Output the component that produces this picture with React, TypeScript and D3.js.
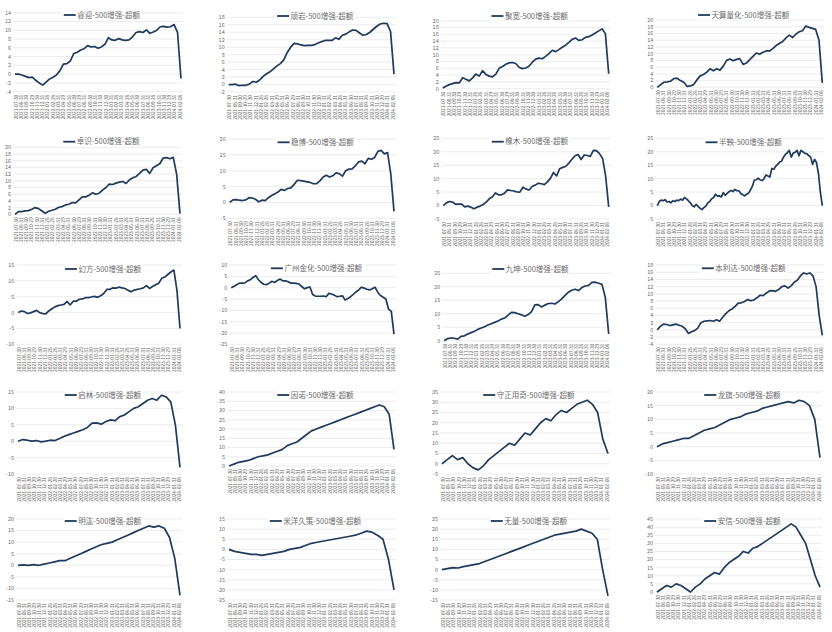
import React from "react";
import * as d3 from "d3";

const names = [
  "睿迎", "顽岩", "聚宽", "天算量化",
  "卓识", "稳博", "橡木", "半鞅",
  "幻方", "广州金化", "九坤", "本利达",
  "启林", "因诺", "守正用奇", "龙旗",
  "明汯", "米洋久策", "无量", "安信",
];
const titleSuffix = "-500增强-超额";

const dateTicks = [
  "2021-07-30", "2021-08-31", "2021-09-30", "2021-10-29", "2021-11-30", "2021-12-31",
  "2022-01-28", "2022-02-28", "2022-03-31", "2022-04-29", "2022-05-31", "2022-06-30",
  "2022-07-29", "2022-08-31", "2022-09-30", "2022-10-31", "2022-11-30", "2022-12-30",
  "2023-01-31", "2023-02-28", "2023-03-31", "2023-04-28", "2023-05-31", "2023-06-30",
  "2023-07-31", "2023-08-31", "2023-09-28", "2023-10-31", "2023-11-30", "2023-12-29",
  "2024-01-31", "2024-02-08",
];

const t01 = [-4, -2, 0, 2, 4, 6, 8, 10, 12, 14];
const t02 = [-2, 0, 2, 4, 6, 8, 10, 12, 14, 16, 18];
const t03 = [0, 2, 4, 6, 8, 10, 12, 14, 16, 18, 20];
const t04 = [0, 2, 4, 6, 8, 10, 12, 14, 16, 18, 20];
const t05 = [0, 2, 4, 6, 8, 10, 12, 14, 16, 18, 20];
const t06 = [-5, 0, 5, 10, 15, 20];
const t07 = [-5, 0, 5, 10, 15, 20, 25];
const t08 = [-5, 0, 5, 10, 15, 20, 25];
const t09 = [-10, -5, 0, 5, 10, 15];
const t10 = [-25, -20, -15, -10, -5, 0, 5, 10];
const t11 = [0, 5, 10, 15, 20, 25];
const t12 = [-4, -2, 0, 2, 4, 6, 8, 10, 12, 14, 16, 18];
const t13 = [-10, -5, 0, 5, 10, 15];
const t14 = [0, 5, 10, 15, 20, 25, 30, 35, 40];
const t15 = [-5, 0, 5, 10, 15, 20, 25, 30, 35];
const t16 = [-10, -5, 0, 5, 10, 15, 20];
const t17 = [-15, -10, -5, 0, 5, 10, 15, 20];
const t18 = [-25, -20, -15, -10, -5, 0, 5, 10, 15];
const t19 = [-15, -10, -5, 0, 5, 10, 15, 20, 25];
const t20 = [0, 5, 10, 15, 20, 25, 30, 35, 40, 45];

const s01 = [0, 0, -0.2, -0.5, -0.8, -0.7, -1.4, -2.0, -2.5, -1.8, -1.1, -0.7, -0.2, 0.8, 2.3, 2.4, 3.0, 4.7, 5.0, 5.5, 5.8, 6.5, 6.2, 6.3, 5.9, 6.2, 6.8, 8.3, 7.8, 7.7, 8.1, 7.8, 7.7, 7.8, 8.5, 9.5, 9.7, 9.5, 10.1, 9.3, 9.6, 10.0, 10.8, 10.9, 10.7, 10.8, 11.3, 9.5, -1.0];
const s02 = [0, 0, 0.1, -0.3, -0.2, -0.2, 0.1, 0.8, 0.6, 1.2, 2.2, 2.9, 3.4, 4.2, 5.0, 5.6, 6.6, 8.6, 10.0, 11.0, 10.9, 10.6, 10.4, 10.5, 10.5, 10.7, 11.1, 11.5, 11.8, 11.8, 11.8, 12.5, 12.1, 13.2, 13.5, 14.1, 14.6, 14.5, 13.8, 13.2, 13.4, 14.0, 14.8, 15.6, 16.2, 16.4, 16.3, 14.2, 2.8];
const s03 = [0.2, 0.7, 1.2, 1.5, 1.8, 1.7, 3.2, 2.8, 2.3, 3.2, 4.3, 3.7, 5.3, 4.2, 3.7, 3.5, 4.3, 6.0, 6.5, 7.2, 7.6, 7.7, 7.4, 6.3, 5.9, 6.1, 6.6, 7.8, 8.7, 9.0, 8.8, 9.5, 10.3, 11.3, 10.9, 11.5, 12.2, 12.8, 13.6, 14.5, 14.9, 14.2, 14.4, 15.1, 15.3, 15.8, 16.4, 17.0, 17.6, 16.2, 4.4];
const s04 = [0, 0.8, 1.5, 1.6, 1.8, 2.6, 2.7, 2.0, 1.5, 0.3, 0.4, 0.8, 2.2, 3.4, 3.8, 4.5, 5.5, 4.9, 5.5, 5.1, 6.3, 8.0, 8.4, 7.9, 8.3, 8.5, 6.8, 7.2, 8.2, 9.2, 10.2, 9.8, 10.4, 10.8, 10.8, 11.5, 12.4, 13.0, 13.6, 14.7, 15.5, 14.8, 15.8, 16.5, 16.8, 18.2, 17.8, 17.5, 17.2, 14.0, 1.3];
const s05 = [0, 0.8, 0.8, 1.0, 1.1, 1.5, 2.0, 1.7, 1.0, 0.3, 0.9, 1.2, 1.5, 2.1, 2.3, 2.8, 3.0, 3.5, 3.4, 4.3, 5.2, 5.2, 5.7, 6.4, 6.0, 6.3, 7.2, 8.0, 9.0, 8.9, 9.3, 9.6, 9.8, 9.2, 10.3, 10.9, 11.3, 12.2, 13.2, 13.4, 12.2, 13.9, 14.5, 15.1, 16.8, 16.9, 16.6, 17.0, 12.0, 0.2];
const s06 = [0, 0.8, 0.9, 0.7, 0.6, 0.8, 1.5, 1.4, 1.0, 0.2, 0.7, 0.6, 1.5, 2.2, 2.7, 3.3, 4.1, 3.8, 4.4, 4.6, 5.7, 7.0, 6.9, 6.7, 6.5, 6.3, 5.9, 5.9, 6.8, 8.0, 8.6, 8.0, 8.4, 9.3, 9.1, 8.3, 10.0, 10.5, 10.6, 11.5, 12.8, 13.0, 12.2, 13.9, 13.6, 14.2, 16.1, 16.4, 15.3, 15.7, 9.0, -2.8];
const s07 = [0, 1.0, 1.5, 1.3, 0.5, 0.5, 0.5, -0.5, -0.2, -0.6, -1.2, -0.6, -0.2, 0.4, 1.3, 2.5, 3.2, 4.7, 4.0, 4.0, 4.6, 5.8, 5.6, 5.4, 5.1, 5.0, 6.8, 6.1, 5.8, 7.1, 7.6, 8.3, 8.1, 7.8, 8.8, 10.2, 12.3, 11.0, 13.7, 14.2, 14.6, 15.8, 17.2, 18.5, 19.0, 17.1, 18.8, 18.6, 18.3, 20.5, 20.4, 19.3, 17.5, 11.0, -0.5];
const s08 = [0, 1.5, 2.0, 1.8, 2.2, 1.3, 1.5, 1.0, 1.8, 1.5, 2.0, 1.8, 2.4, 2.0, 3.0, 2.5, 1.8, 1.0, 0, -0.5, 0.4, -0.3, -1.0, -1.5, -0.8, -0.2, 1.0, 1.5, 2.5, 3.0, 4.2, 3.5, 3.6, 3.2, 4.8, 3.8, 4.5, 5.2, 5.6, 5.2, 6.0, 5.5, 5.5, 4.5, 4.0, 3.6, 4.2, 4.6, 5.8, 7.2, 9.5, 9.6, 10.2, 9.5, 9.3, 10.0, 11.4, 11.0, 10.6, 13.8, 13.5, 14.6, 15.3, 16.2, 16.5, 18.0, 19.0, 19.7, 20.5, 18.0, 19.5, 19.8, 20.5, 18.5, 20.5, 20.0, 19.4, 19.3, 18.6, 18.0, 15.3, 17.2, 16.0, 12.0, 5.0, 0];
const s09 = [0, 0.5, 0.3, -0.3, -0.1, 0.3, 0.7, 0, -0.3, -0.4, 0.5, 1.2, 1.8, 2.2, 2.4, 2.6, 3.5, 2.4, 3.6, 3.6, 4.2, 4.3, 4.7, 4.7, 4.9, 5.1, 4.8, 5.3, 6.0, 7.3, 7.3, 7.8, 7.7, 8.0, 7.8, 7.6, 7.0, 6.6, 7.1, 7.3, 7.5, 7.8, 8.5, 7.6, 8.2, 8.8, 9.2, 10.8, 11.2, 12.0, 12.8, 13.4, 7.0, -5.0];
const s10 = [0, 0.6, 1.3, 2.0, 2.0, 2.1, 3.0, 3.5, 4.5, 5.3, 3.5, 2.3, 1.5, 1.3, 2.0, 2.8, 2.3, 3.2, 3.8, 3.0, 3.0, 2.6, 2.0, 2.0, 1.9, 1.6, 0.5, -0.5, 0, 0.3, -3.0, -3.7, -3.8, -3.8, -3.7, -4.0, -2.5, -2.8, -3.3, -4.0, -3.8, -3.6, -5.5, -4.8, -4.0, -3.0, -1.8, -1.0, 0.2, -0.2, -0.7, -1.0, -0.5, 0.2, -2.0, -3.5, -4.2, -5.0, -9.5, -10.5, -20.5];
const s11 = [0, 0.8, 1.0, 0.9, 0.6, 1.6, 1.8, 2.5, 3.0, 3.5, 4.2, 4.7, 5.2, 5.8, 6.3, 6.8, 7.3, 8.0, 8.4, 9.5, 10.5, 10.4, 10.0, 9.6, 9.1, 9.7, 10.8, 13.3, 13.4, 12.5, 13.2, 13.8, 13.9, 13.6, 14.5, 15.5, 16.8, 18.0, 18.7, 19.1, 18.6, 19.7, 20.3, 20.5, 21.6, 21.7, 21.3, 20.9, 16.0, 2.5];
const s12 = [0, 1.0, 1.6, 1.5, 1.2, 1.4, 1.6, 1.3, 1.0, 0.3, -1.0, -0.5, -0.2, 0.5, 2.0, 2.4, 2.5, 2.6, 2.4, 2.8, 2.4, 3.5, 4.5, 5.3, 5.8, 6.5, 7.4, 7.5, 7.9, 8.4, 8.1, 8.3, 8.9, 9.6, 9.5, 10.2, 10.8, 10.9, 10.7, 11.2, 12.0, 12.2, 11.6, 12.2, 13.2, 13.8, 15.0, 15.8, 15.5, 15.8, 15.0, 12.0, 4.0, -1.5];
const s13 = [0, 0.5, 0.3, 0, 0.2, -0.2, 0, 0.3, 0.2, 0.8, 1.5, 2.0, 2.5, 3.0, 3.5, 4.2, 5.5, 5.6, 5.2, 6.0, 6.5, 6.3, 7.5, 8.0, 9.0, 10.0, 10.5, 11.5, 12.5, 13.0, 12.5, 14.0, 13.5, 12.0, 5.0, -8.0];
const s14 = [0, 1, 2, 2.5, 3, 4, 5, 5.5, 6, 7, 8, 9, 11, 12, 13, 15, 17, 19, 20, 21, 22, 23, 24, 25, 26, 27, 28, 29, 30, 31, 32, 33, 32, 28, 9];
const s15 = [0, 2, 4, 2, 3, 0, -2, -3, -1, 2, 4, 6, 8, 10, 9, 12, 15, 14, 17, 20, 22, 21, 24, 26, 25, 27, 29, 30, 31, 29, 25, 12, 5];
const s16 = [0, 1, 1.5, 2, 2.5, 3, 3, 4, 5, 6, 6.5, 7, 8, 9, 10, 10.5, 11, 12, 12.5, 13, 14, 14.5, 15, 15.5, 16, 16.5, 16, 17, 16.5, 15, 10, -4];
const s17 = [0, 0.2, 0, 0.3, 0, 0.5, 1, 1.5, 2, 2, 3, 4, 5, 6, 7, 8, 9, 9.5, 10, 11, 12, 13, 14, 15, 16, 17, 16.5, 17, 16, 12, 3, -13];
const s18 = [0, -1, -1.5, -2, -2.5, -2.5, -3, -2.5, -2, -1.5, -1, 0, 0.5, 1, 2, 3, 3.5, 4, 4.5, 5, 5.5, 6, 6.5, 7, 8, 9, 8.5, 7, 5, -5, -20];
const s19 = [0, 0.5, 1, 0.8, 1.5, 2, 2.5, 3, 4, 5, 6, 7, 8, 9, 10, 11, 12, 13, 14, 15, 16, 17, 17.5, 18, 18.5, 19, 20, 19, 18, 15, 0, -13];
const s20 = [0, 2, 4, 3, 5, 4, 2, 0, 3, 5, 8, 10, 12, 11, 15, 18, 20, 22, 25, 24, 27, 28, 30, 32, 34, 36, 38, 40, 42, 40, 35, 30, 20, 10, 3];

const seriesList = [s01, s02, s03, s04, s05, s06, s07, s08, s09, s10, s11, s12, s13, s14, s15, s16, s17, s18, s19, s20];
const tickList = [t01, t02, t03, t04, t05, t06, t07, t08, t09, t10, t11, t12, t13, t14, t15, t16, t17, t18, t19, t20];

// layout: plot box per panel (left, right, top tick y, bottom tick y, title y)
const boxes = [
  { l: 15, r: 181, t: 12.7, b: 91.7, ty: 15 },
  { l: 228.7, r: 394, t: 17.3, b: 92, ty: 16 },
  { l: 442.7, r: 608.7, t: 20.7, b: 88.7, ty: 16 },
  { l: 657.3, r: 822.3, t: 20, b: 87.3, ty: 15 },
  { l: 15, r: 180, t: 147.3, b: 214.3, ty: 141.7 },
  { l: 229.7, r: 394, t: 139, b: 218.3, ty: 142.3 },
  { l: 443.3, r: 608.7, t: 138.3, b: 219, ty: 141.7 },
  { l: 657.3, r: 822.3, t: 138.3, b: 219, ty: 142.3 },
  { l: 18.3, r: 180, t: 265, b: 344.3, ty: 269 },
  { l: 231.3, r: 394, t: 265, b: 344.3, ty: 268.3 },
  { l: 444.3, r: 608.7, t: 273.3, b: 340.7, ty: 269 },
  { l: 657.3, r: 822.3, t: 265, b: 344.3, ty: 268.3 },
  { l: 18, r: 180, t: 392, b: 474, ty: 395 },
  { l: 229, r: 394, t: 392, b: 466, ty: 395 },
  { l: 442, r: 608, t: 392, b: 474, ty: 395 },
  { l: 657, r: 820, t: 392, b: 474, ty: 395 },
  { l: 18, r: 180, t: 519, b: 600, ty: 521 },
  { l: 229, r: 394, t: 519, b: 600, ty: 521 },
  { l: 442, r: 608, t: 519, b: 600, ty: 521 },
  { l: 657, r: 820, t: 519, b: 592, ty: 521 },
];

const LINE = "#1f3a5c";
const GRID = "#e4e4e4";
const TXT = "#6b6b6b";

function textWidth(s: string, fs: number) {
  let w = 0;
  for (const ch of s) w += /[\u4e00-\u9fff]/.test(ch) ? fs : ch === "-" ? fs * 0.36 : fs * 0.56;
  return w;
}

function Panel({ idx }: { idx: number }) {
  const box = boxes[idx];
  const values = seriesList[idx];
  const ticks = tickList[idx];
  const x = d3.scaleLinear().domain([0, values.length - 1]).range([box.l, box.r]);
  const y = d3.scaleLinear().domain([ticks[0], ticks[ticks.length - 1]]).range([box.b, box.t]);
  const xl = d3.scalePoint<string>().domain(dateTicks).range([box.l + 1, box.r - 1]);
  const path = d3.line<number>().x((_, i) => x(i)).y((d) => y(d))(values) || "";
  const title = names[idx] + titleSuffix;
  const fs = 7.5;
  const tw = textWidth(title, fs);
  const legW = 12;
  const totalW = legW + 1.5 + tw;
  const cx = (box.l + box.r) / 2 + 4;
  const sx = cx - totalW / 2;
  return (
    <g>
      {ticks.map((t) => (
        <g key={t}>
          <line x1={box.l - 2} x2={box.r + 2} y1={y(t)} y2={y(t)} stroke={GRID} strokeWidth={0.7} />
          <text x={box.l - 4} y={y(t)} dy="0.35em" fontSize={5.5} fill={TXT} textAnchor="end">{t}</text>
        </g>
      ))}
      {dateTicks.map((d) => (
        <text key={d} transform={`translate(${xl(d)},${box.b + 3}) rotate(-90)`} dy="0.35em" fontSize={4.8} fill={TXT} textAnchor="end">{d}</text>
      ))}
      <rect x={sx - 1} y={box.ty - 5} width={totalW + 2} height={10} fill="white" />
      <line x1={sx} x2={sx + legW} y1={box.ty} y2={box.ty} stroke={LINE} strokeWidth={1.8} />
      <text x={sx + legW + 1.5} y={box.ty} dy="0.35em" fontSize={fs} fill={TXT}>{title}</text>
      <path d={path} fill="none" stroke={LINE} strokeWidth={1.7} strokeLinejoin="round" />
    </g>
  );
}

export default function App() {
  return (
    <svg width={832} height={632} style={{ position: "absolute", left: 0, top: 0, background: "#fff", fontFamily: "'Noto Sans CJK SC', 'Noto Sans', sans-serif" }}>
      <rect width={832} height={632} fill="#fff" />
      {names.map((_, i) => (
        <Panel key={i} idx={i} />
      ))}
    </svg>
  );
}
